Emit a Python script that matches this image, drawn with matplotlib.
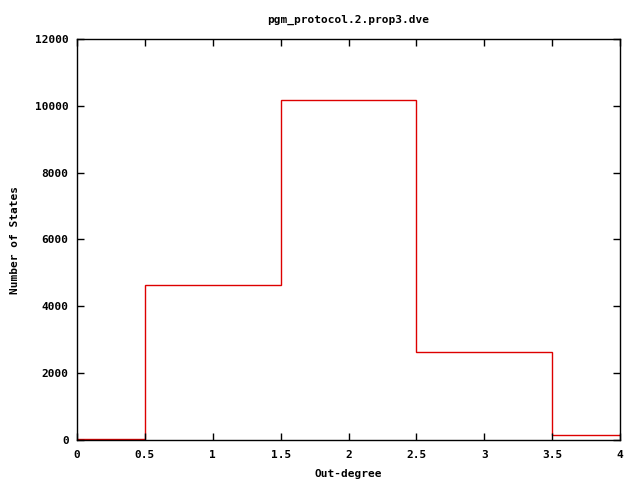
import matplotlib
matplotlib.use("Agg")
import matplotlib.pyplot as plt
import numpy as np

degrees = [0, 1, 2, 3, 4]
states = [40, 4630, 10160, 2630, 150]
xticks = [0, 0.5, 1, 1.5, 2, 2.5, 3, 3.5, 4]
xticklabels = ["0", "0.5", "1", "1.5", "2", "2.5", "3", "3.5", "4"]
yticks = [0, 2000, 4000, 6000, 8000, 10000, 12000]

plt.rcParams['font.family'] = ['DejaVu Sans Mono']
plt.rcParams['font.weight'] = 'bold'
plt.rcParams['font.size'] = 8

fig = plt.figure(figsize=(6.4, 4.8), dpi=100)
ax = fig.add_axes([77/640, 40/480, (620-77)/640, (440-39)/480])

edges = np.concatenate([[degrees[0] - 0.5], np.array(degrees) + 0.5])
ax.stairs(states, edges, color='#dd0000', linewidth=1.0, baseline=0)

ax.set_xlim(0, 4)
ax.set_ylim(0, 12000)
ax.set_xticks(xticks)
ax.set_xticklabels(xticklabels)
ax.set_yticks(yticks)
ax.tick_params(direction='in', top=True, right=True, length=5, width=1, pad=6)
ax.tick_params(axis='x', pad=7)
for s in ax.spines.values():
    s.set_linewidth(1.0)

ax.set_title("pgm_protocol.2.prop3.dve", fontsize=8, fontweight='bold', pad=12)
ax.set_xlabel("Out-degree", fontsize=8, fontweight='bold', labelpad=7)
ax.set_ylabel("Number of States", fontsize=8, fontweight='bold', labelpad=11)

fig.savefig("out.png", dpi=100)
